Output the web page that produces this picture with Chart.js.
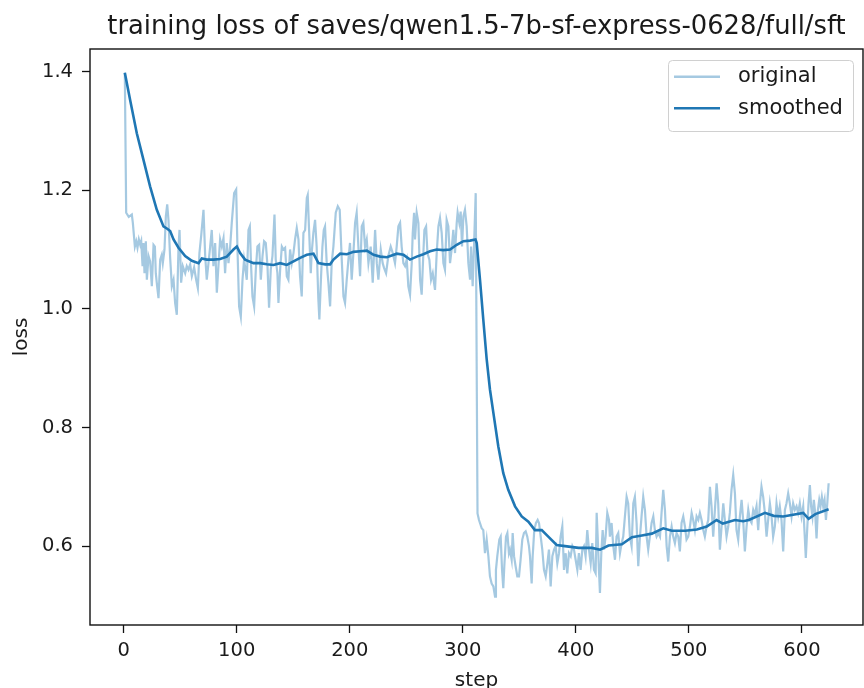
<!DOCTYPE html>
<html>
<head>
<meta charset="utf-8">
<script src="https://cdn.jsdelivr.net/npm/chart.js@4.4.1/dist/chart.umd.min.js"></script>
<style>
  html, body { margin: 0; padding: 0; background: #ffffff; }
  canvas { display: block; }
</style>
</head>
<body>
<canvas id="c" width="864" height="688"></canvas>
<script>
// ---------- data ----------
const titleText = 'training loss of saves/qwen1.5-7b-sf-express-0628/full/sft';
const xLabel = 'step';
const yLabel = 'loss';
const legendLabels = ['original', 'smoothed'];
const xTicks = [0, 100, 200, 300, 400, 500, 600];
const yTicks = [0.6, 0.8, 1.0, 1.2, 1.4];

const origStep = [
  1,2.2,4.5,7.2,8.1,9.9,11.1,12.2,13.4,14.6,15.5,16.7,17.5,18.4,19.6,20.5,22,23.4,24.9,26.4,
  27.6,28.4,29.6,30.8,32.3,33.7,34.6,36.1,37.3,38.5,39.6,41.1,42.6,44.1,45.5,47,48.5,49.4,50.8,52.3,
  54.4,55.8,57.3,58.8,60.3,62.3,64.1,65.6,67,68.5,70.6,72.1,73.5,75,76.5,77.9,79.4,80.9,82.4,83.8,
  85.3,86.8,88.3,89.7,91.2,92.7,94.2,95.6,97.7,99.5,100.6,102.1,103.6,105.1,106.5,
  108.9,110.4,111.6,112.7,113.9,115.4,116.9,118.3,119.8,121.3,122.8,124.2,125.7,127.2,128.6,130.1,131.6,133.4,134.5,136,
  136.9,138.4,139.9,141.3,142.8,144.3,145.7,147.2,148.7,150.2,151.6,153.1,154.6,156,157.5,159,160.5,162,162.8,164,
  165.5,166.3,167.8,169.3,170.7,172.2,173.1,174.6,175.8,177,178.1,179.6,181.1,182.6,184,185.5,187.6,189.4,191.1,192.9,
  194.4,195.8,197.3,198.8,200.2,201.7,203.2,204.7,206.1,207.6,209.1,210.6,212,213.5,215,216.5,
  218.5,220.3,222.4,223.9,225.3,227.4,229.1,230.3,232.1,234.1,236.2,238,240,241.5,243,244.5,245.9,247.4,248.9,250.4,
  251.8,253.3,254.8,255.7,256.9,257.7,259.2,260.7,262.2,263.6,265.1,266,267.5,268.7,270.4,271.9,273.4,275.4,276.9,278.4,
  279.8,281.3,282.8,284.2,285.7,287.2,288.7,290.1,291.6,293.1,294.6,295.4,296.9,298.1,299.3,300.5,301.9,303.4,304.9,306.4,
  307.3,308.7,309.9,311.4,313,
  314.3,316.7,318.1,319.6,321.1,322.6,324,325.5,327,328.5,329.3,330.5,332.3,333.5,334.7,335.8,336.7,338.2,339.4,340.8,
  341.7,343.2,344.1,345.3,346.7,348.2,349.7,351.1,352.6,354.1,355.6,357,358.5,359.4,360.9,361.8,363.2,364.7,366.2,367.4,
  368.9,370.3,371.8,373.3,374.8,376.2,377.7,379.2,380.7,382.1,383.6,385.1,386.5,388,389.5,391,392.4,393.9,395.4,396.9,
  398.3,399.8,401.3,402.7,404.2,405.7,407.2,408.6,410.1,411.6,413.1,414.5,416,417.5,418.4,419.3,420.4,421.3,422.5,423.7,
  424.9,426.3,427.8,429.3,430.1,431.6,433.1,434.6,436,437.5,439,440.5,441.9,443.4,444.9,446.3,447.8,449.3,450.8,452.2,
  453.7,455.2,456.7,458.1,459.6,461.1,462.6,464,
  467,468.5,469.9,471.4,472.9,474.4,475.8,477.3,478.8,480.3,481.7,483.2,484.7,486.1,487.6,489.1,490.6,492,493.5,495,
  496.5,497.9,499.4,500.9,502.4,503.8,505.3,506.8,508.3,509.7,511.2,512.7,514.1,515.6,517.1,518.6,520,521.5,523,524.5,
  525.9,527.4,528.9,530.4,531.8,533.3,534.8,536.2,537.7,539.2,540.7,542.1,543.6,545.1,546.6,548,549.5,551,552.5,553.9,
  555.4,556.9,558.3,559.8,561.3,562.8,564.2,565.7,567.2,568.7,570.1,571.6,573.1,574.5,576,577.5,579,580.4,581.9,583.4,
  584.9,586.3,587.8,589.3,590.8,592.2,593.7,595.2,596.6,598.1,599.6,601.1,602.5,603.4,604.6,605.8,607,608.1,609.3,610.5,
  611.7,612.9,614.1,615.3,616.4,617.6,618.8,620,621.2,622.4,623.6
];
const origLoss = [
  1.398,1.162,1.155,1.159,1.145,1.105,1.114,1.103,1.117,1.108,1.114,1.072,1.111,1.060,1.114,1.049,1.089,1.080,1.038,1.108,
  1.105,1.060,1.038,1.018,1.083,1.091,1.077,1.100,1.156,1.176,1.150,1.086,1.038,1.049,1.010,0.990,1.105,1.133,1.044,1.072,
  1.060,1.072,1.066,1.075,1.055,1.070,1.049,1.035,1.094,1.122,1.167,1.089,1.049,1.077,1.105,1.133,1.072,1.111,1.027,1.072,
  1.117,1.105,1.119,1.060,1.111,1.077,1.105,1.145,1.195,1.201,1.105,1.004,0.987,1.049,1.083,
  1.049,1.133,1.139,1.072,1.021,1.004,1.066,1.105,1.108,1.049,1.089,1.114,1.111,1.072,1.002,1.066,1.089,1.159,1.083,1.060,
  1.010,1.066,1.105,1.100,1.103,1.055,1.049,1.100,1.077,1.094,1.117,1.136,1.117,1.055,1.021,1.128,1.133,1.187,1.192,1.133,
  1.060,1.094,1.128,1.150,1.105,1.016,0.982,1.055,1.105,1.133,1.139,1.077,1.044,1.004,1.077,1.105,1.162,1.173,1.167,1.083,
  1.021,1.010,1.049,1.083,1.111,1.049,1.094,1.145,1.162,1.105,1.055,1.139,1.145,1.105,1.117,1.077,
  1.105,1.044,1.133,1.077,1.049,1.100,1.077,1.069,1.060,1.089,1.105,1.094,1.077,1.105,1.139,1.145,1.105,1.077,1.072,1.083,
  1.038,1.024,1.077,1.128,1.162,1.117,1.162,1.145,1.049,1.024,1.094,1.133,1.139,1.094,1.083,1.049,1.060,1.032,1.094,1.139,
  1.153,1.128,1.077,1.066,1.150,1.139,1.077,1.100,1.133,1.094,1.145,1.162,1.145,1.164,1.105,1.156,1.167,1.139,1.077,1.049,
  1.105,1.038,1.105,1.195,0.655,
  0.644,0.630,0.627,0.588,0.611,0.583,0.549,0.537,0.532,0.515,0.560,0.583,0.611,0.616,0.560,0.529,0.566,0.616,0.622,0.588,
  0.594,0.577,0.622,0.583,0.566,0.549,0.549,0.577,0.611,0.622,0.625,0.616,0.600,0.583,0.537,0.583,0.627,0.639,0.644,0.639,
  0.616,0.594,0.560,0.549,0.571,0.594,0.532,0.583,0.594,0.600,0.571,0.588,0.616,0.633,0.560,0.588,0.554,0.588,0.583,0.600,
  0.594,0.577,0.560,0.588,0.560,0.594,0.600,0.583,0.627,0.594,0.571,0.605,0.560,0.554,0.656,0.616,0.560,0.521,0.588,0.627,
  0.594,0.616,0.656,0.644,0.616,0.639,0.600,0.577,0.616,0.622,0.588,0.605,0.616,0.650,0.683,0.672,0.616,0.600,0.672,0.683,
  0.639,0.566,0.616,0.650,0.683,0.661,0.616,0.594,
  0.639,0.650,0.627,0.616,0.622,0.616,0.656,0.695,0.661,0.600,0.574,0.616,0.633,0.616,0.605,0.622,0.616,0.591,0.639,0.650,
  0.633,0.611,0.616,0.633,0.656,0.644,0.627,0.650,0.644,0.656,0.644,0.627,0.616,0.633,0.644,0.700,0.667,0.616,0.661,0.706,
  0.672,0.594,0.633,0.672,0.644,0.616,0.633,0.656,0.695,0.720,0.689,0.627,0.611,0.650,0.678,0.644,0.591,0.633,0.661,0.644,
  0.639,0.661,0.653,0.667,0.627,0.672,0.700,0.683,0.656,0.616,0.644,0.672,0.650,0.616,0.633,0.672,0.650,0.667,0.644,0.591,
  0.661,0.672,0.689,0.672,0.650,0.672,0.661,0.667,0.656,0.672,0.650,0.667,0.616,0.580,0.627,0.672,0.703,0.667,0.650,0.678,
  0.656,0.613,0.661,0.678,0.667,0.683,0.667,0.678,0.644,0.672,0.706
];

const smoothStep = [
  1,5.7,11.6,17.5,23.4,29.3,35.2,38.5,41.1,44.1,48.5,54.4,60.3,66.2,69.1,73.5,79.4,85.3,91.2,97.1,
  100.1,103,107.4,114.8,120.7,126.6,132.5,138.4,144.3,150.2,156.1,162,167.9,172.3,178.2,182.6,185.6,191.5,197.4,203.3,
  209.2,215.1,221,226.9,232.8,241.6,247.5,253.3,259.2,265.1,271,276.9,282.8,288.7,294.6,300.5,306.4,311.2,312.3,315.2,
  318.1,321.1,324,327,331.4,335.8,340.2,346.2,352.1,358,363.8,369.8,375.6,383,390.4,402.4,414.2,421.4,428.9,440.7,
  449.6,458.4,467.2,477.3,484.9,496.7,507,515.8,524.5,530,540.7,548,553,567.3,575,583.4,601.1,605.9,611.8,623.6
];
const smoothLoss = [
  1.398,1.352,1.296,1.251,1.206,1.167,1.139,1.135,1.131,1.117,1.103,1.089,1.081,1.077,1.085,1.083,1.083,1.084,1.088,1.100,
  1.105,1.094,1.083,1.077,1.077,1.075,1.074,1.077,1.074,1.080,1.086,1.091,1.093,1.077,1.075,1.075,1.083,1.093,1.092,1.096,
  1.097,1.098,1.091,1.088,1.087,1.093,1.091,1.083,1.088,1.092,1.097,1.100,1.099,1.100,1.108,1.114,1.115,1.117,1.111,1.049,
  0.982,0.915,0.864,0.825,0.768,0.723,0.695,0.667,0.650,0.641,0.627,0.627,0.616,0.602,0.600,0.597,0.597,0.594,0.601,0.603,
  0.615,0.618,0.621,0.630,0.626,0.626,0.628,0.633,0.644,0.638,0.644,0.642,0.644,0.656,0.651,0.650,0.656,0.646,0.654,0.662
];

// ---------- styling ----------
const FONT = 'DejaVu Sans';
const TEXT = '#1a1a1a';
const BLUE = '#1f77b4';
const BLUE_A = 'rgba(31,119,180,0.4)';

const pts = (xs, ys) => xs.map((x, i) => ({ x: x, y: ys[i] }));

const decor = {
  id: 'decor',
  beforeDraw(chart) {
    const ctx = chart.ctx;
    ctx.save();
    ctx.fillStyle = '#ffffff';
    ctx.fillRect(0, 0, chart.width, chart.height);
    ctx.restore();
  },
  afterDraw(chart) {
    const ctx = chart.ctx;
    const a = chart.chartArea;
    ctx.save();
    // frame (all four spines)
    ctx.strokeStyle = '#111';
    ctx.lineWidth = 1.4;
    ctx.strokeRect(a.left, a.top, a.right - a.left, a.bottom - a.top);

    // title
    ctx.fillStyle = TEXT;
    ctx.font = '25.8px "' + FONT + '"';
    ctx.textAlign = 'center';
    ctx.textBaseline = 'alphabetic';
    ctx.fillText(titleText, (a.left + a.right) / 2, 34);

    // axis titles
    ctx.font = '20px "' + FONT + '"';
    ctx.fillText(xLabel, (a.left + a.right) / 2, 686);
    ctx.save();
    ctx.translate(27, (a.top + a.bottom) / 2);
    ctx.rotate(-Math.PI / 2);
    ctx.fillText(yLabel, 0, 0);
    ctx.restore();

    // legend
    const lx = 668.5, ly = 60.5, lw = 185, lh = 71, r = 4;
    ctx.beginPath();
    ctx.moveTo(lx + r, ly);
    ctx.lineTo(lx + lw - r, ly);
    ctx.arcTo(lx + lw, ly, lx + lw, ly + r, r);
    ctx.lineTo(lx + lw, ly + lh - r);
    ctx.arcTo(lx + lw, ly + lh, lx + lw - r, ly + lh, r);
    ctx.lineTo(lx + r, ly + lh);
    ctx.arcTo(lx, ly + lh, lx, ly + lh - r, r);
    ctx.lineTo(lx, ly + r);
    ctx.arcTo(lx, ly, lx + r, ly, r);
    ctx.closePath();
    ctx.fillStyle = 'rgba(255,255,255,0.8)';
    ctx.fill();
    ctx.strokeStyle = '#d0d0d0';
    ctx.lineWidth = 1;
    ctx.stroke();

    const rows = [[BLUE_A, 76.7], [BLUE, 108.3]];
    rows.forEach((row, i) => {
      ctx.beginPath();
      ctx.strokeStyle = row[0];
      ctx.lineWidth = 2.6;
      ctx.moveTo(674, row[1]);
      ctx.lineTo(720, row[1]);
      ctx.stroke();
      ctx.fillStyle = TEXT;
      ctx.font = '21px "' + FONT + '"';
      ctx.textAlign = 'left';
      ctx.textBaseline = 'middle';
      ctx.fillText(legendLabels[i], 738, row[1]);
    });
    ctx.restore();
  }
};

new Chart(document.getElementById('c').getContext('2d'), {
  type: 'line',
  data: {
    datasets: [
      {
        label: legendLabels[0],
        data: pts(origStep, origLoss),
        borderColor: BLUE_A,
        borderWidth: 2.2,
        pointRadius: 0,
        tension: 0,
        fill: false,
        order: 2
      },
      {
        label: legendLabels[1],
        data: pts(smoothStep, smoothLoss),
        borderColor: BLUE,
        borderWidth: 2.6,
        pointRadius: 0,
        tension: 0,
        fill: false,
        order: 1
      }
    ]
  },
  options: {
    responsive: false,
    animation: false,
    devicePixelRatio: 1,
    layout: { padding: { top: 49, right: 1, left: 0, bottom: 0 } },
    plugins: {
      legend: { display: false },
      title: { display: false },
      tooltip: { enabled: false }
    },
    scales: {
      x: {
        type: 'linear',
        min: -29.8,
        max: 654,
        afterBuildTicks: s => { s.ticks = xTicks.map(v => ({ value: v })); },
        afterFit: s => { s.height = 63; },
        ticks: {
          color: TEXT,
          font: { family: FONT, size: 19.5 },
          padding: 6,
          maxRotation: 0,
          autoSkip: false,
          callback: v => String(v)
        },
        grid: { drawOnChartArea: false, drawTicks: true, tickLength: 8, tickColor: '#111', tickWidth: 1.3 },
        border: { display: false }
      },
      y: {
        type: 'linear',
        min: 0.467,
        max: 1.438,
        afterBuildTicks: s => { s.ticks = yTicks.map(v => ({ value: v })); },
        afterFit: s => { s.width = 90; },
        ticks: {
          color: TEXT,
          font: { family: FONT, size: 19.5 },
          padding: 9,
          autoSkip: false,
          callback: v => Number(v).toFixed(1)
        },
        grid: { drawOnChartArea: false, drawTicks: true, tickLength: 8, tickColor: '#111', tickWidth: 1.3 },
        border: { display: false }
      }
    }
  },
  plugins: [decor]
});
</script>
</body>
</html>
